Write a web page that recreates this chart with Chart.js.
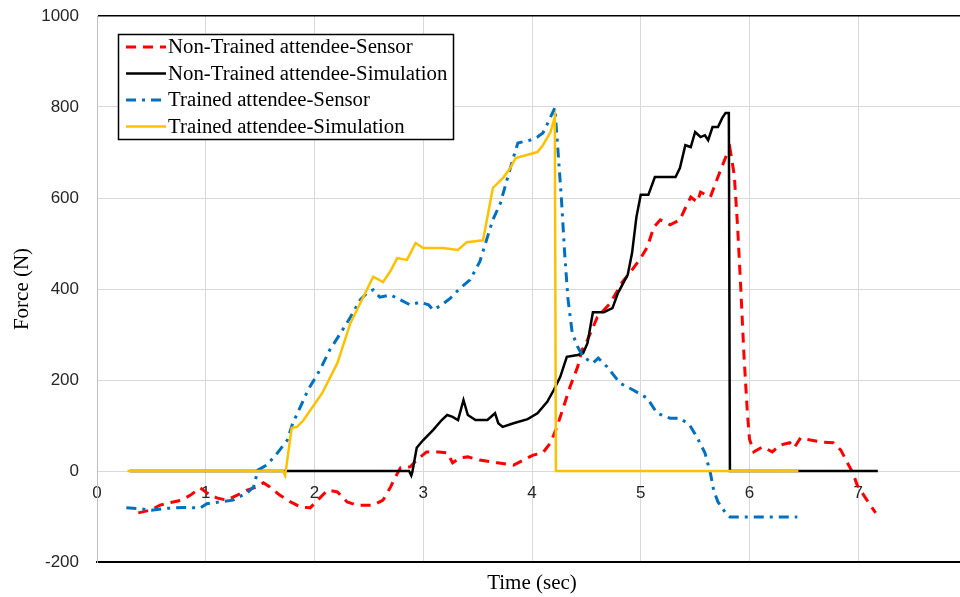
<!DOCTYPE html>
<html>
<head>
<meta charset="utf-8">
<script src="https://cdn.jsdelivr.net/npm/chart.js@4.4.1/dist/chart.umd.min.js"></script>
<style>
    html, body { margin: 0; padding: 0; background: #fff; overflow: hidden; }
    #wrap { width: 967px; height: 597px; position: relative; }
</style>
</head>
<body>
<div id="wrap"><canvas id="forceChart"></canvas></div>
<script>
// series labels
const seriesLabels = [
    'Non-Trained attendee-Sensor',
    'Non-Trained attendee-Simulation',
    'Trained attendee-Sensor',
    'Trained attendee-Simulation'
];

// Non-Trained attendee - Sensor
const ntSensorTime = [0.38, 0.49, 0.58, 0.70, 0.78, 0.86, 0.95, 1.01, 1.10, 1.19, 1.29, 1.38, 1.47, 1.53, 1.59, 1.68,
    1.78, 1.87, 1.96, 2.05, 2.12, 2.21, 2.30, 2.39, 2.54, 2.63, 2.70, 2.74, 2.79, 2.88, 2.94, 3.03, 3.14, 3.22, 3.27,
    3.34, 3.41, 3.52, 3.68, 3.83, 3.92, 4.01, 4.10, 4.17, 4.23, 4.29, 4.35, 4.42, 4.46, 4.51, 4.56, 4.60, 4.72, 4.83,
    4.92, 5.00, 5.06, 5.12, 5.18, 5.27, 5.36, 5.41, 5.46, 5.52, 5.55, 5.64, 5.70, 5.76, 5.80, 5.82, 5.86, 5.89, 5.92,
    5.95, 5.98, 6.00, 6.04, 6.12, 6.21, 6.28, 6.37, 6.41, 6.47, 6.56, 6.65, 6.77, 6.84, 6.90, 6.95, 6.99, 7.08, 7.16];
const ntSensorForce = [-92, -86, -75, -68, -64, -53, -37, -48, -59, -64, -53, -42, -35, -26, -35, -53,
    -68, -79, -81, -59, -42, -46, -68, -75, -75, -64, -35, -15, 7, 9, 24, 42, 42, 40, 18,
    29, 31, 24, 18, 13, 24, 35, 40, 62, 97, 141, 185, 229, 266, 288, 315, 338, 369, 415,
    442, 468, 492, 536, 552, 541, 552, 578, 602, 591, 613, 602, 640, 677, 701, 710, 650, 540, 400,
    250, 130, 70, 42, 53, 42, 57, 62, 51, 73, 68, 64, 62, 46, 18, -4, -31, -64, -92];

// Non-Trained attendee - Simulation
const ntSimTime = [0.30, 2.87, 2.89, 2.90, 2.94, 3.00, 3.09, 3.17, 3.22, 3.27, 3.32, 3.37, 3.41, 3.48, 3.59, 3.66,
    3.69, 3.73, 3.83, 3.96, 4.05, 4.14, 4.20, 4.26, 4.32, 4.42, 4.47, 4.51, 4.56, 4.66, 4.74, 4.79, 4.88, 4.92, 4.96,
    5.00, 5.07, 5.13, 5.32, 5.36, 5.41, 5.46, 5.50, 5.55, 5.59, 5.62, 5.66, 5.71, 5.75, 5.78, 5.81, 5.82, 7.18];
const ntSimForce = [0, 0, -10, -2, 51, 68, 90, 112, 123, 119, 112, 156, 123, 112, 112, 127,
    105, 97, 105, 114, 127, 152, 178, 207, 251, 255, 259, 281, 349, 349, 358, 391, 431, 479, 558,
    607, 607, 646, 646, 666, 716, 712, 745, 734, 738, 727, 756, 756, 776, 787, 787, 0, 0];

// Trained attendee - Sensor
const tSensorTime = [0.27, 0.40, 0.50, 0.65, 0.80, 0.95, 1.01, 1.25, 1.38, 1.44, 1.48, 1.56, 1.66, 1.75, 1.80, 1.87,
    1.94, 2.02, 2.05, 2.14, 2.24, 2.33, 2.42, 2.49, 2.54, 2.60, 2.70, 2.79, 2.88, 2.97, 3.05, 3.09, 3.17, 3.25, 3.34,
    3.43, 3.52, 3.59, 3.64, 3.71, 3.77, 3.83, 3.87, 3.98, 4.05, 4.10, 4.15, 4.21, 4.24, 4.27, 4.30, 4.33, 4.37, 4.42,
    4.47, 4.56, 4.61, 4.69, 4.81, 4.93, 5.06, 5.15, 5.27, 5.36, 5.45, 5.52, 5.59, 5.64, 5.67, 5.71, 5.78, 5.82, 6.44];
const tSensorForce = [-81, -83, -86, -82, -80, -81, -72, -64, -48, -35, 2, 13, 40, 68, 105, 141,
    178, 210, 222, 266, 303, 338, 376, 393, 398, 382, 387, 376, 365, 371, 365, 354, 365, 380, 402,
    420, 460, 514, 552, 589, 640, 690, 721, 727, 734, 743, 767, 798, 700, 600, 480, 380, 303, 273,
    251, 237, 248, 229, 193, 178, 160, 127, 116, 116, 101, 73, 40, -4, -42, -68, -92, -101, -101];

// Trained attendee - Simulation
const tSimTime = [0.28, 1.71, 1.73, 1.79, 1.84, 1.90, 2.07, 2.21, 2.33, 2.45, 2.54, 2.63, 2.70, 2.76, 2.85, 2.93,
    3.00, 3.18, 3.32, 3.40, 3.55, 3.64, 3.74, 3.80, 3.85, 3.96, 4.05, 4.10, 4.17, 4.21, 4.22, 6.45];
const tSimForce = [0, 0, -10, 95, 97, 112, 171, 237, 325, 383, 427, 415, 440, 468, 464, 501,
    490, 490, 486, 503, 507, 622, 646, 666, 688, 695, 701, 716, 745, 778, 0, 0];

const xTickLabels = ['0', '1', '2', '3', '4', '5', '6', '7'];
const yTicks = [-200, 0, 200, 400, 600, 800, 1000];

function toPoints(times, forces) {
    return times.map((t, i) => ({ x: t, y: forces[i] }));
}

// legend box sits inside the plot, top-left, like the original
const insideLegend = {
    id: 'insideLegend',
    afterDatasetsDraw(chart) {
        const ctx = chart.ctx;
        ctx.save();
        ctx.fillStyle = '#fff';
        ctx.fillRect(118, 34, 335, 105);
        ctx.strokeStyle = '#000';
        ctx.lineWidth = 1.5;
        ctx.strokeRect(118.5, 34.5, 335, 105);
        ctx.font = '20.8px "Liberation Serif"';
        ctx.textBaseline = 'middle';
        chart.data.datasets.forEach((ds, i) => {
            const y = 47 + i * 26.5;
            ctx.strokeStyle = ds.borderColor;
            ctx.lineWidth = ds.borderWidth;
            ctx.setLineDash(ds.borderDash || []);
            ctx.beginPath();
            ctx.moveTo(126, y);
            ctx.lineTo(166, y);
            ctx.stroke();
            ctx.setLineDash([]);
            ctx.fillStyle = '#000';
            ctx.fillText(ds.label, 168, y + 1);
        });
        ctx.restore();
    }
};

const tickFont = { family: '"Liberation Sans", Arial, sans-serif', size: 17 };
const titleFont = { family: '"Liberation Serif", "Times New Roman", serif', size: 21 };

new Chart(document.getElementById('forceChart'), {
    type: 'line',
    data: {
        datasets: [{
            label: seriesLabels[0],
            data: toPoints(ntSensorTime, ntSensorForce),
            borderColor: '#ff0000',
            borderWidth: 3,
            borderDash: [10, 7],
            order: 4
        }, {
            label: seriesLabels[1],
            data: toPoints(ntSimTime, ntSimForce),
            borderColor: '#000000',
            borderWidth: 2.5,
            order: 3
        }, {
            label: seriesLabels[2],
            data: toPoints(tSensorTime, tSensorForce),
            borderColor: '#0070c0',
            borderWidth: 3,
            borderDash: [10, 6, 3, 6],
            order: 2
        }, {
            label: seriesLabels[3],
            data: toPoints(tSimTime, tSimForce),
            borderColor: '#ffc000',
            borderWidth: 2.5,
            order: 1
        }]
    },
    options: {
        responsive: true,
        maintainAspectRatio: false,
        animation: false,
        elements: { point: { radius: 0 }, line: { tension: 0 } },
        layout: { padding: { top: 16, left: 0, right: 0, bottom: 0 } },
        plugins: {
            legend: { display: false },
            tooltip: { enabled: false }
        },
        scales: {
            x: {
                type: 'linear',
                position: { y: 0 },
                min: 0,
                max: 8,
                ticks: {
                    stepSize: 1,
                    padding: 12,
                    font: tickFont,
                    color: '#262626',
                    callback: (value, index) => xTickLabels[index] || ''
                },
                grid: { color: '#d9d9d9', lineWidth: 1, drawTicks: false },
                border: { display: false },
                afterFit: scale => { scale.paddingLeft = 0; scale.paddingRight = 0; }
            },
            x2: {
                type: 'linear',
                position: 'bottom',
                min: 0,
                max: 8,
                ticks: { display: false },
                grid: { display: false, drawTicks: false },
                border: { color: '#000', width: 2 },
                title: { display: true, text: 'Time (sec)', font: titleFont, color: '#000', padding: { top: 0, bottom: 1 } },
                afterFit: scale => { scale.height = 35; scale.paddingLeft = 0; scale.paddingRight = 0; }
            },
            y: {
                min: -200,
                max: 1000,
                afterBuildTicks: scale => { scale.ticks = yTicks.map(v => ({ value: v })); },
                ticks: { padding: 18, font: tickFont, color: '#262626', callback: value => String(value) },
                grid: {
                    color: c => (c.tick && c.tick.value === 1000) ? '#000' : '#d9d9d9',
                    lineWidth: c => (c.tick && c.tick.value === 1000) ? 1.5 : 1,
                    drawTicks: false
                },
                border: { color: '#bfbfbf' },
                title: { display: true, text: 'Force (N)', font: titleFont, color: '#000', padding: { top: 10, bottom: 0 } },
                afterFit: scale => { scale.width = 97; scale.paddingTop = 0; scale.paddingBottom = 0; }
            }
        }
    },
    plugins: [insideLegend]
});
</script>
</body>
</html>
